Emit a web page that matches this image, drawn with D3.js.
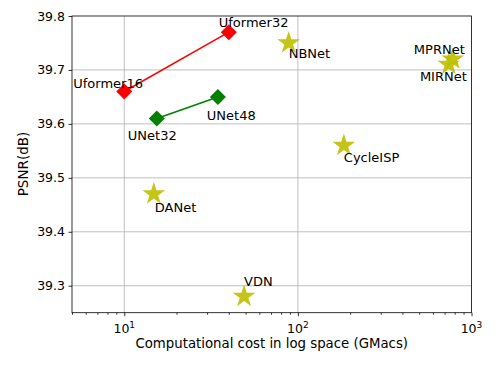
<!DOCTYPE html>
<html><head><meta charset="utf-8">
<script src="https://cdn.jsdelivr.net/npm/d3@7"></script>
<style>body{margin:0;background:#fff}text{font-family:"DejaVu Sans",sans-serif}</style>
</head><body><svg id="c" width="504" height="365"></svg>
<script>
const uformerNames = ["Uformer16", "Uformer32"];
const uformerCost = [10, 40];
const uformerPsnr = [39.66, 39.77];
const unetNames = ["UNet32", "UNet48"];
const unetCost = [15.4, 34.6];
const unetPsnr = [39.61, 39.65];
const otherNames = ["NBNet", "MPRNet", "MIRNet", "CycleISP", "DANet", "VDN"];
const otherCost = [88.5, 780, 740, 184, 14.8, 49];
const otherPsnr = [39.75, 39.72, 39.71, 39.56, 39.47, 39.28];
const yTicks = [39.3, 39.4, 39.5, 39.6, 39.7, 39.8];
const xTicks = [10, 100, 1000];
// label offsets (dx, dy relative to point, anchor)
const labelPos = {
  "Uformer16": [-51, -4, "start"], "Uformer32": [-10, -5, "start"],
  "UNet32": [-29, 22, "start"], "UNet48": [-11, 23, "start"],
  "NBNet": [0, 15, "start"], "MPRNet": [12, -5, "end"], "MIRNet": [18, 16, "end"],
  "CycleISP": [0, 17, "start"], "DANet": [1, 18, "start"], "VDN": [0, -11, "start"]
};

const svg = d3.select("#c");
const L = 72, R = 471.5, T = 16, B = 312.7;
const x = d3.scaleLog().domain([5, 1000]).range([L, R]);
const y = d3.scaleLinear().domain([39.25, 39.8]).range([B, T]);

// grid
const g = svg.append("g");
g.selectAll(".gx").data(xTicks.filter(d => d < 1000)).enter().append("line")
  .attr("x1", d => x(d)).attr("x2", d => x(d)).attr("y1", T).attr("y2", B)
  .attr("stroke", "#b0b0b0").attr("stroke-width", 0.8);
g.selectAll(".gy").data(yTicks.filter(d => d < 39.8)).enter().append("line")
  .attr("y1", d => y(d)).attr("y2", d => y(d)).attr("x1", L).attr("x2", R)
  .attr("stroke", "#b0b0b0").attr("stroke-width", 0.8);

// axes
const minor = [];
[1, 10, 100].forEach(b => { for (let k = 2; k <= 9; k++) { const v = b * k; if (v >= 5 && v <= 1000) minor.push(v); } });
const xAxis = d3.axisBottom(x).tickValues(xTicks).tickSize(3.5).tickPadding(3.5).tickFormat(() => "");
const xa = svg.append("g").attr("transform", `translate(0,${B})`).call(xAxis);
const xm = svg.append("g").attr("transform", `translate(0,${B})`)
  .call(d3.axisBottom(x).tickValues(minor).tickSize(2).tickFormat(() => ""));
xm.select(".domain").remove();
xa.select(".domain").remove();
const yAxis = d3.axisLeft(y).tickValues(yTicks).tickSize(3.5).tickPadding(3.5).tickFormat(d3.format(".1f"));
const ya = svg.append("g").attr("transform", `translate(${L},0)`).call(yAxis);
ya.select(".domain").remove();
ya.selectAll("text").attr("font-size", 12.5).attr("fill", "#000").attr("font-family", "DejaVu Sans");
svg.selectAll(".tick line").attr("stroke", "#000").attr("stroke-width", 0.8);

// x tick labels with superscript
xTicks.forEach(v => {
  const t = svg.append("text").attr("x", x(v)).attr("y", B + 20).attr("text-anchor", "middle")
    .attr("font-size", 12.5).attr("fill", "#000");
  t.append("tspan").text("10");
  t.append("tspan").attr("dy", -5).attr("font-size", 9).text(Math.round(Math.log10(v)));
});

// frame
svg.append("rect").attr("x", L).attr("y", T).attr("width", R - L).attr("height", B - T)
  .attr("fill", "none").attr("stroke", "#000").attr("stroke-width", 0.8);

// axis labels
svg.append("text").attr("x", (L + R) / 2).attr("y", 348).attr("text-anchor", "middle")
  .attr("font-size", 13.3).text("Computational cost in log space (GMacs)");
svg.append("text").attr("transform", "translate(27.5,164) rotate(-90)").attr("text-anchor", "middle")
  .attr("font-size", 13.5).text("PSNR(dB)");

const line = d3.line().x(d => x(d[0])).y(d => y(d[1]));
function series(costs, psnrs, color) {
  const pts = costs.map((c, i) => [c, psnrs[i]]);
  svg.append("path").attr("d", line(pts)).attr("fill", "none").attr("stroke", color).attr("stroke-width", 1.5);
  svg.selectAll(null).data(pts).enter().append("path")
    .attr("d", d3.symbol().type(d3.symbolSquare).size(128)())
    .attr("transform", d => `translate(${x(d[0])},${y(d[1])}) rotate(45)`)
    .attr("fill", color);
}
series(uformerCost, uformerPsnr, "#ff0000");
series(unetCost, unetPsnr, "#008000");

const starPts = otherCost.map((c, i) => [c, otherPsnr[i]]);
svg.selectAll(null).data(starPts).enter().append("path")
  .attr("d", d3.symbol().type(d3.symbolStar).size(160)())
  .attr("transform", d => `translate(${x(d[0])},${y(d[1])})`)
  .attr("fill", "#bfbf00").attr("opacity", 0.9);

function labels(names, costs, psnrs) {
  names.forEach((n, i) => {
    const p = labelPos[n];
    svg.append("text").attr("x", x(costs[i]) + p[0]).attr("y", y(psnrs[i]) + p[1])
      .attr("text-anchor", p[2]).attr("font-size", 13).attr("fill", "#000").text(n);
  });
}
labels(uformerNames, uformerCost, uformerPsnr);
labels(unetNames, unetCost, unetPsnr);
labels(otherNames, otherCost, otherPsnr);
</script></body></html>
